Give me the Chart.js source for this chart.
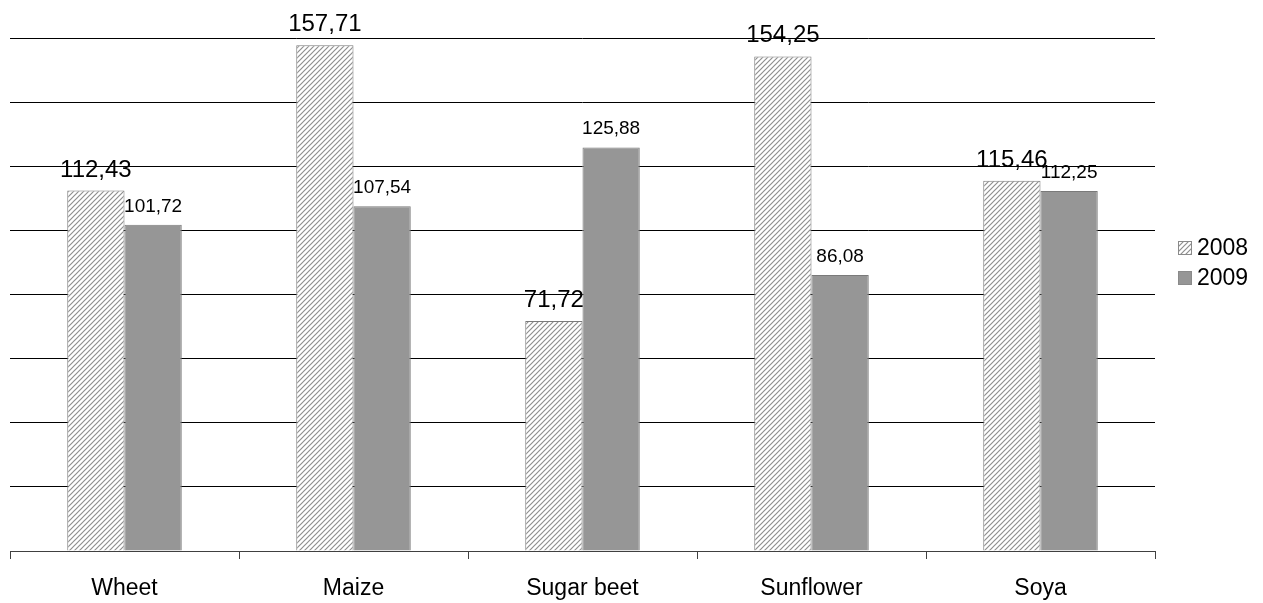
<!DOCTYPE html>
<html>
<head>
<meta charset="utf-8">
<script src="https://cdn.jsdelivr.net/npm/chart.js@4/dist/chart.umd.min.js"></script>
<style>
    html, body { margin: 0; padding: 0; background: #fff; }
    #wrap { width: 1263px; height: 603px; }
</style>
</head>
<body>
<div id="wrap"><canvas id="crops-chart"></canvas></div>
<script>
// Data
const categories = ["Wheet", "Maize", "Sugar beet", "Sunflower", "Soya"];
const values2008 = [112.43, 157.71, 71.72, 154.25, 115.46];
const values2009 = [101.72, 107.54, 125.88, 86.08, 112.25];
const seriesNames = ["2008", "2009"];
const yTicks = [0, 20, 40, 60, 80, 100, 120, 140, 160];

const FONT = "'Liberation Sans', Arial, sans-serif";

// Hatch pattern for 2008
function makeHatch() {
    const s = 5;
    const c = document.createElement('canvas');
    c.width = s; c.height = s;
    const g = c.getContext('2d');
    g.fillStyle = '#ffffff';
    g.fillRect(0, 0, s, s);
    g.strokeStyle = '#8f8f8f';
    g.lineWidth = 1.2;
    g.beginPath();
    g.moveTo(0, s); g.lineTo(s, 0);
    g.moveTo(-1, 1); g.lineTo(1, -1);
    g.moveTo(s - 1, s + 1); g.lineTo(s + 1, s - 1);
    g.stroke();
    return g.createPattern(c, 'repeat');
}

const fmt = v => v.toFixed(2).replace('.', ',');

// Value labels above bars
const valueLabels = {
    id: 'valueLabels',
    afterDatasetsDraw(chart) {
        const ctx = chart.ctx;
        ctx.save();
        ctx.fillStyle = '#000';
        ctx.textAlign = 'center';
        ctx.textBaseline = 'alphabetic';
        chart.data.datasets.forEach((ds, i) => {
            const meta = chart.getDatasetMeta(i);
            ctx.font = (i === 0 ? '24px ' : '19px ') + FONT;
            meta.data.forEach((bar, j) => {
                ctx.fillText(fmt(ds.data[j]), bar.x, bar.y - (i === 0 ? 14 : 13));
            });
        });
        ctx.restore();
    }
};

// Legend on the right
const sideLegend = {
    id: 'sideLegend',
    afterDraw(chart) {
        const ctx = chart.ctx;
        ctx.save();
        ctx.font = '23px ' + FONT;
        ctx.textBaseline = 'middle';
        ctx.textAlign = 'left';
        chart.data.datasets.forEach((ds, i) => {
            const y = 248 + i * 30;
            ctx.fillStyle = ds.backgroundColor;
            ctx.fillRect(1178, y - 7, 14, 14);
            ctx.strokeStyle = '#8a8a8a';
            ctx.lineWidth = 1;
            ctx.strokeRect(1178.5, y - 6.5, 13, 13);
            ctx.fillStyle = '#000';
            ctx.fillText(ds.label, 1197, y + 1);
        });
        ctx.restore();
    }
};

document.addEventListener('DOMContentLoaded', () => {
    const ctx = document.getElementById('crops-chart').getContext('2d');
    new Chart(ctx, {
        type: 'bar',
        data: {
            labels: categories,
            datasets: [{
                label: seriesNames[0],
                data: values2008,
                backgroundColor: makeHatch(),
                borderColor: '#7a7a7a',
                borderWidth: 1,
                categoryPercentage: 0.5,
                barPercentage: 1,
            }, {
                label: seriesNames[1],
                data: values2009,
                backgroundColor: '#969696',
                borderColor: '#7a7a7a',
                borderWidth: 1,
                categoryPercentage: 0.5,
                barPercentage: 1,
            }],
        },
        options: {
            responsive: true,
            maintainAspectRatio: false,
            animation: false,
            layout: { padding: { left: 10, right: 108, top: 38, bottom: 0 } },
            plugins: {
                legend: { display: false },
                tooltip: { enabled: false },
            },
            scales: {
                x: {
                    grid: {
                        offset: true,
                        drawOnChartArea: false,
                        drawTicks: true,
                        tickLength: 8,
                        color: '#404040',
                    },
                    border: { display: true, color: '#404040', width: 1 },
                    ticks: {
                        color: '#000',
                        font: { family: FONT, size: 23 },
                        padding: 16,
                    },
                    afterFit(scale) { scale.height = 52; },
                },
                y: {
                    min: 0,
                    max: 160,
                    afterBuildTicks(scale) { scale.ticks = yTicks.map(v => ({ value: v })); },
                    ticks: { display: false },
                    grid: { color: '#000', lineWidth: 1, drawTicks: false },
                    border: { display: false },
                    afterFit(scale) { scale.width = 0; },
                },
            },
        },
        plugins: [valueLabels, sideLegend],
    });
});
</script>
</body>
</html>
